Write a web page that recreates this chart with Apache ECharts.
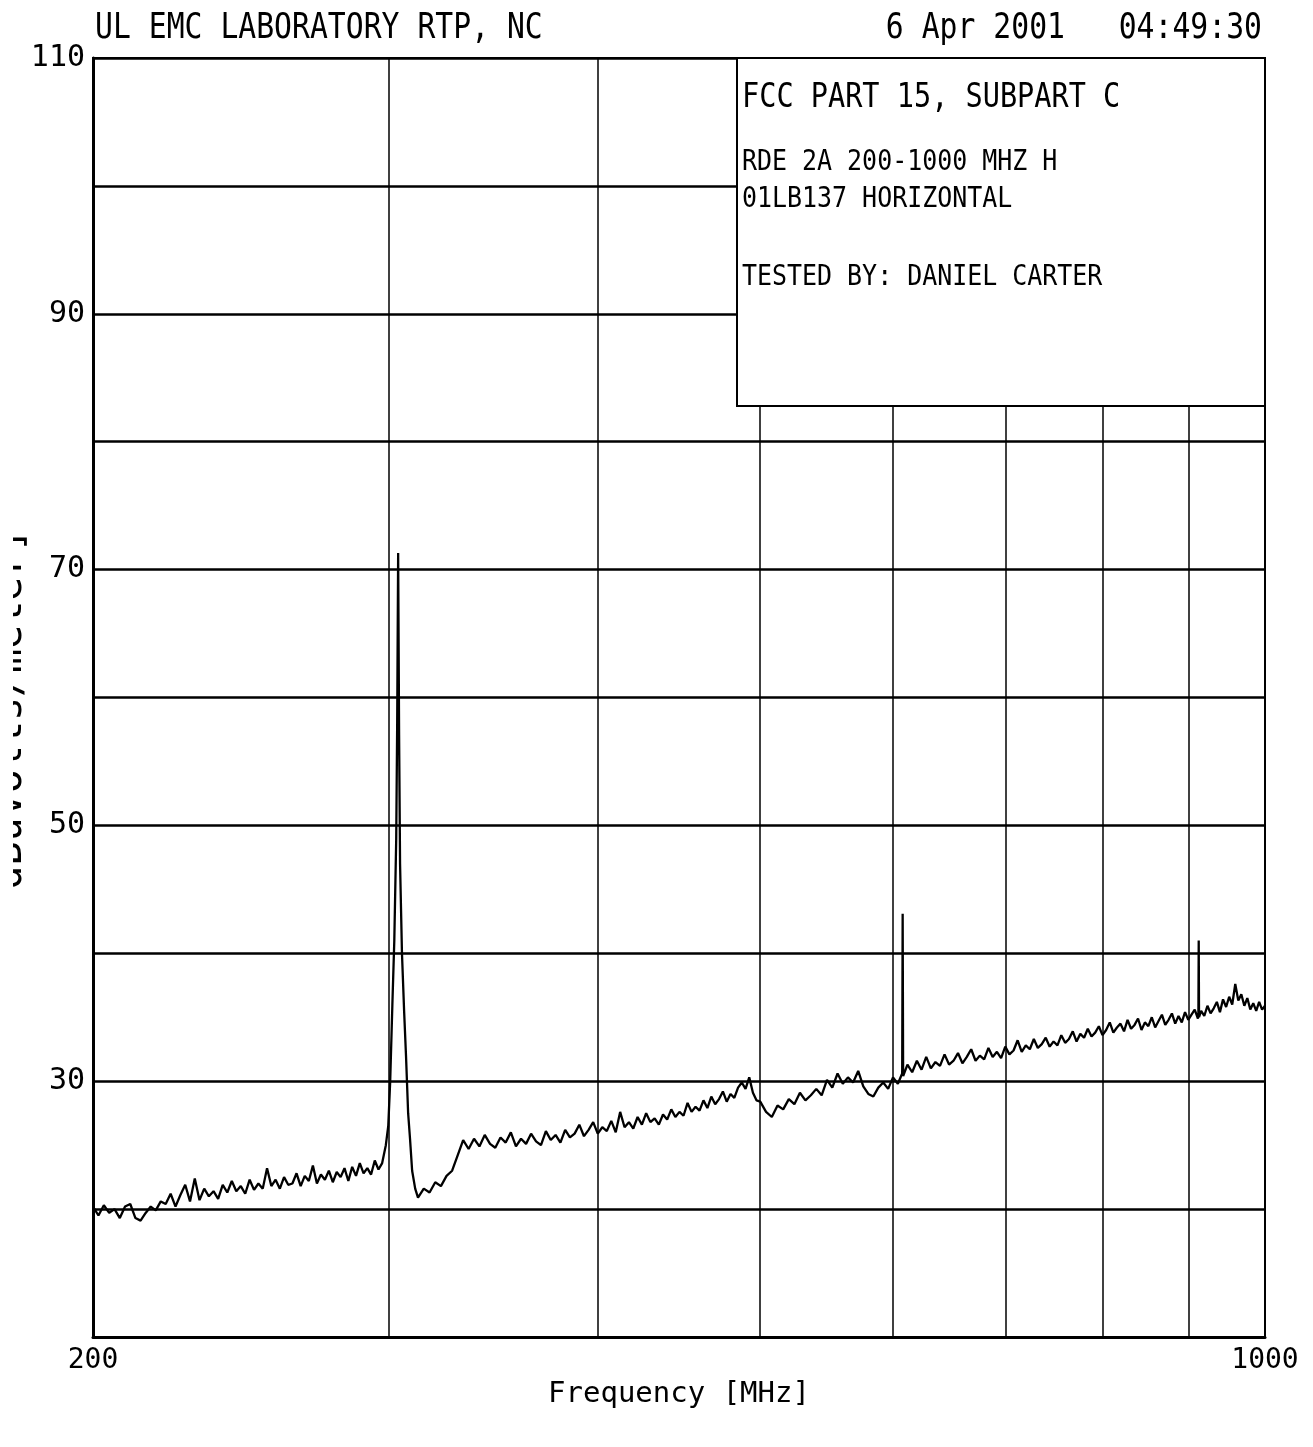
<!DOCTYPE html>
<html>
<head>
<meta charset="utf-8">
<script src="https://cdn.jsdelivr.net/npm/echarts@6/dist/echarts.min.js"></script>
<style>
html,body{margin:0;padding:0;background:#fff;}
#c{width:1313px;height:1447px;}
</style>
</head>
<body>
<div id="c"></div>
<script>
const FONT = '"DejaVu Sans Mono", "Liberation Mono", monospace';

// Axis ticks / labels
const xTickLabels = [200, 1000];
const xGridFreqs = [300, 400, 500, 600, 700, 800, 900];
const yTickLabels = [30, 50, 70, 90, 110];

// Trace segment A: 200-296 MHz
const freqA = [
  200,201.5,203,204.5,206,207.5,209,210.5,212,213.5,
  215,216.5,218,219.5,221,222.5,224,225.5,227,228.5,
  230,231.5,233,234.5,236,237.5,239,240.5,242,243.5,
  245,246.5,248,249.5,251,252.5,254,255.5,257,258.5,
  260,261.5,263,264.5,266,267.5,269,270.5,272,273.5,
  275,276.5,278,279.5,281,282.5,284,285.5,287,288.5,
  290,291.5,293,294.5,296];
const levelA = [
  20.2,19.5,20.3,19.7,20.0,19.3,20.2,20.4,19.3,19.1,
  19.7,20.2,19.9,20.6,20.4,21.2,20.2,21.1,21.9,20.6,
  22.4,20.7,21.6,21.0,21.4,20.8,21.9,21.3,22.2,21.4,
  21.8,21.2,22.3,21.5,22.0,21.6,23.2,21.8,22.3,21.6,
  22.5,21.9,22.0,22.8,21.8,22.6,22.2,23.4,22.0,22.7,
  22.3,23.0,22.1,22.9,22.5,23.2,22.2,23.3,22.6,23.6,
  22.8,23.2,22.7,23.8,23.1];

// Peak near 304 MHz
const freqP = [297.5,299,300,300.8,301.7,302.5,303.3,303.7,304.1,304.5,304.9,305.7,306.6,307.4,308.3,309.1,310,311.3];
const levelP = [23.6,25.0,26.5,30,36,41,49,58,71.3,57,47,40,35.5,32,27.5,25.5,23,21.6];

// Segment B: 312.5-497.5 MHz
const freqB = [
  312.5,315,317.5,320,322.5,325,327.5,330,332.5,335,
  337.5,340,342.5,345,347.5,350,352.5,355,357.5,360,
  362.5,365,367.5,370,372.5,375,377.5,380,382.5,385,
  387.5,390,392.5,395,397.5,400,402.5,405,407.5,410,
  412.5,415,417.5,420,422.5,425,427.5,430,432.5,435,
  437.5,440,442.5,445,447.5,450,452.5,455,457.5,460,
  462.5,465,467.5,470,472.5,475,477.5,480,482.5,485,
  487.5,490,492.5,495,497.5];
const levelB = [
  20.9,21.6,21.3,22.1,21.8,22.6,23.0,24.2,25.4,24.7,
  25.5,24.9,25.8,25.1,24.8,25.6,25.2,26.0,24.9,25.5,
  25.1,25.9,25.3,25.0,26.1,25.4,25.8,25.2,26.2,25.6,
  25.9,26.6,25.7,26.2,26.8,25.9,26.4,26.1,26.9,26.0,
  27.6,26.4,26.8,26.3,27.2,26.6,27.5,26.8,27.1,26.6,
  27.4,27.0,27.8,27.2,27.6,27.3,28.3,27.6,28.0,27.7,
  28.5,27.9,28.8,28.2,28.6,29.2,28.4,29.0,28.7,29.5,
  29.9,29.4,30.3,29.1,28.5];

// Segment C: 500-1000 MHz (with narrow peaks at 608 and 913 MHz)
const freqC = [
  500,504,508,512,516,520,524,528,532,536,
  540,544,548,552,556,560,564,568,572,576,
  580,584,588,592,596,600,604,607.6,608,608.4,
  612,616,620,624,628,632,636,640,644,648,
  652,656,660,664,668,672,676,680,684,688,
  692,696,700,704,708,712,716,720,724,728,
  732,736,740,744,748,752,756,760,764,768,
  772,776,780,784,788,792,796,800,804,808,
  812,816,820,824,828,832,836,840,844,848,
  852,856,860,864,868,872,876,880,884,888,
  892,896,900,904,908,912,912.6,913,913.4,916,
  920,924,928,932,936,940,944,948,952,956,
  960,964,968,972,976,980,984,988,992,996,
  1000];
const levelC = [
  28.4,27.6,27.2,28.1,27.8,28.6,28.2,29.1,28.5,28.9,
  29.4,28.9,30.1,29.5,30.6,29.8,30.3,29.9,30.8,29.6,
  29.0,28.8,29.5,29.9,29.4,30.3,29.8,30.6,43.1,30.4,
  31.3,30.7,31.6,30.9,31.9,31.0,31.5,31.2,32.1,31.3,
  31.6,32.2,31.4,31.9,32.5,31.6,32.0,31.7,32.6,31.9,
  32.3,31.8,32.7,32.1,32.4,33.2,32.3,32.8,32.5,33.3,
  32.6,32.9,33.4,32.7,33.1,32.8,33.6,33.0,33.3,33.9,
  33.1,33.7,33.4,34.1,33.5,33.8,34.3,33.6,34.0,34.6,
  33.8,34.2,34.5,33.9,34.8,34.1,34.4,34.9,34.0,34.6,
  34.3,35.0,34.2,34.7,35.2,34.4,34.8,35.3,34.5,35.1,
  34.6,35.4,34.8,35.2,35.6,34.9,35.3,41.0,35.0,35.5,
  35.1,35.9,35.3,35.7,36.2,35.4,36.4,35.8,36.6,36.0,
  37.6,36.3,36.8,35.9,36.5,35.6,36.1,35.5,36.2,35.6,
  35.9];

function zip(f, v) { return f.map((x, i) => [x, v[i]]); }
const trace = [].concat(zip(freqA, levelA), zip(freqP, levelP), zip(freqB, levelB), zip(freqC, levelC));

const chart = echarts.init(document.getElementById('c'), null, {renderer: 'canvas'});

function txt(text, x, y, size, opts) {
  opts = opts || {};
  return {
    type: 'text', x: x, y: y, z: opts.z || 110,
    scaleX: opts.scaleX || 1,
    rotation: opts.rotation || 0,
    style: {
      text: text,
      font: size + 'px ' + FONT,
      fill: '#000',
      align: opts.align || 'left', textAlign: opts.align || 'left',
      verticalAlign: 'middle', textVerticalAlign: 'middle'
    }
  };
}

const option = {
  backgroundColor: '#fff',
  animation: false,
  grid: {left: 93, top: 58, right: 48, bottom: 110, show: true, borderColor: '#000', borderWidth: 2, backgroundColor: 'transparent', containLabel: false},
  xAxis: {
    type: 'log', logBase: 10, min: 200, max: 1000,
    axisLine: {show: true, onZero: false, lineStyle: {color: '#000', width: 3}},
    axisTick: {show: false},
    minorTick: {show: false},
    splitLine: {show: false},
    axisLabel: {
      show: true, color: '#000', fontFamily: FONT, fontSize: 28, margin: 10,
      showMinLabel: true, showMaxLabel: true,
      formatter: function (v) { const r = Math.round(v); return xTickLabels.indexOf(r) >= 0 ? String(r) : ''; }
    },
    name: 'Frequency [MHz]', nameLocation: 'middle', nameGap: 36,
    nameTextStyle: {color: '#000', fontFamily: FONT, fontSize: 29}
  },
  yAxis: {
    type: 'value', min: 10, max: 110, interval: 10,
    axisLine: {show: true, lineStyle: {color: '#000', width: 3}},
    axisTick: {show: false},
    splitLine: {show: true, lineStyle: {color: '#000', width: 2.5}},
    axisLabel: {
      color: '#000', fontFamily: FONT, fontSize: 30, margin: 8,
      formatter: function (v) { return yTickLabels.indexOf(v) >= 0 ? String(v) : ''; }
    }
  },
  series: [{
    type: 'line', data: trace, showSymbol: false, symbol: 'none', silent: true,
    lineStyle: {color: '#000', width: 2.3}, itemStyle: {color: '#000'},
    markLine: {
      symbol: 'none', silent: true, label: {show: false},
      lineStyle: {color: '#000', width: 1.5, type: 'solid'},
      data: xGridFreqs.map(f => ({xAxis: f}))
    }
  }],
  graphic: [
    txt('UL EMC LABORATORY RTP, NC', 95, 29, 35, {scaleX: 0.85}),
    txt('6 Apr 2001   04:49:30', 1262, 29, 35, {scaleX: 0.85, align: 'right'}),
    {type: 'rect', z: 100, shape: {x: 737, y: 58, width: 528, height: 348}, style: {fill: '#fff', stroke: '#000', lineWidth: 2}},
    txt('FCC PART 15, SUBPART C', 742, 98, 34, {scaleX: 0.84}),
    txt('RDE 2A 200-1000 MHZ H', 742, 162, 29, {scaleX: 0.86}),
    txt('01LB137 HORIZONTAL', 742, 199, 29, {scaleX: 0.86}),
    txt('TESTED BY: DANIEL CARTER', 742, 277, 29, {scaleX: 0.86}),
    txt('dBuVolts/meter]', 11, 709, 40, {rotation: Math.PI / 2, align: 'center', z: 50}),
    {type: 'rect', z: 60, shape: {x: 0, y: 480, width: 13, height: 450}, style: {fill: '#fff'}}
  ]
};
chart.setOption(option);
</script>
</body>
</html>
